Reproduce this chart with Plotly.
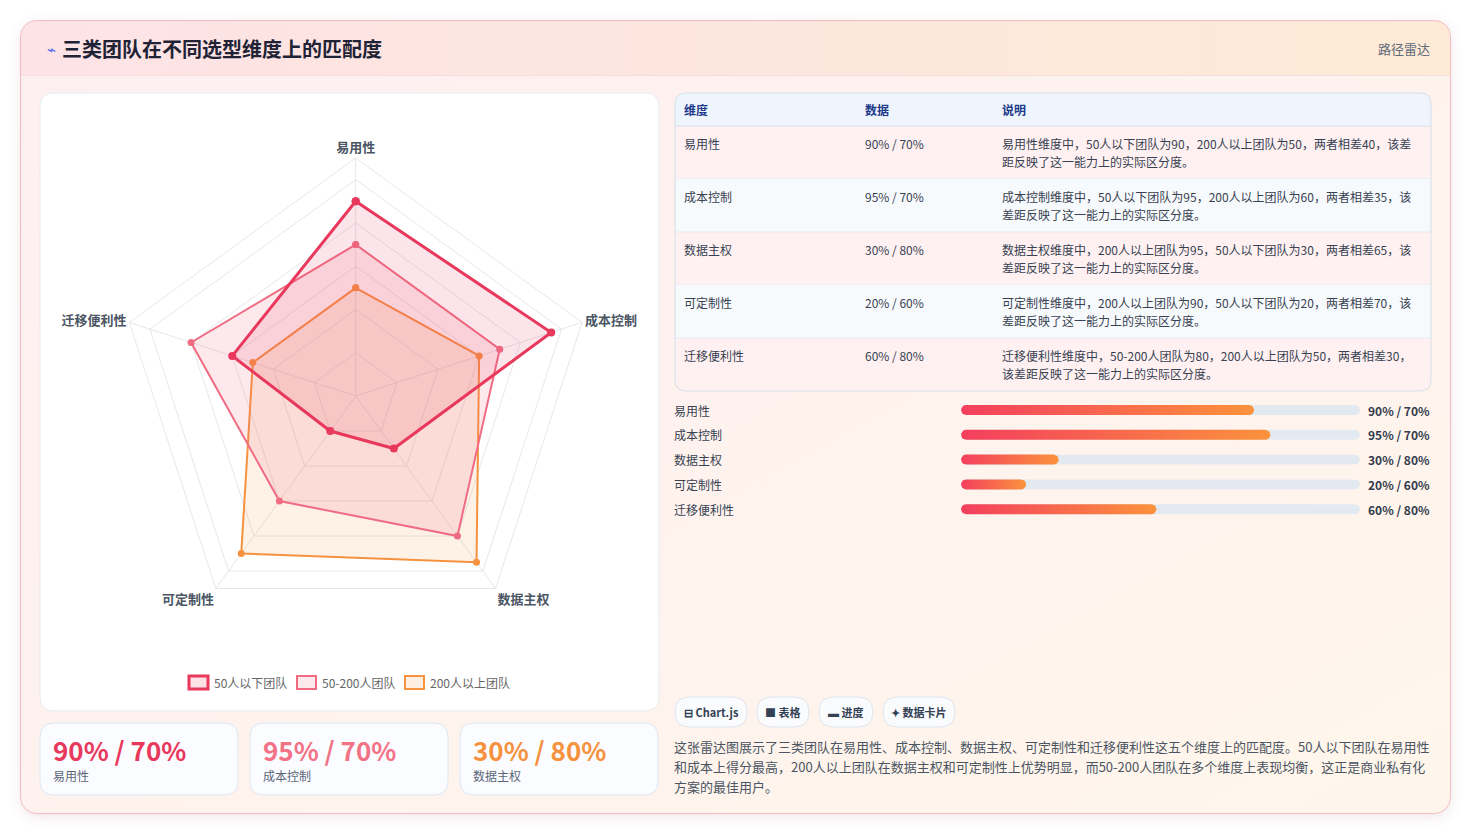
import base64
import math
import plotly.graph_objects as go

W, H = 1471, 836
OFF = 8  # body margin of the html page
FONT = "Noto Sans CJK SC, Noto Sans, sans-serif"

# ---- data ----
dimensions = ["易用性", "成本控制", "数据主权", "可定制性", "迁移便利性"]
team_names = ["50人以下团队", "50-200人团队", "200人以上团队"]
small_team = [90, 95, 30, 20, 60]
mid_team = [70, 70, 80, 60, 80]
large_team = [50, 60, 95, 90, 50]
table_notes = [
    "易用性维度中，50人以下团队为90，200人以上团队为50，两者相差40，该差距反映了这一能力上的实际区分度。",
    "成本控制维度中，50人以下团队为95，200人以上团队为60，两者相差35，该差距反映了这一能力上的实际区分度。",
    "数据主权维度中，200人以上团队为95，50人以下团队为30，两者相差65，该差距反映了这一能力上的实际区分度。",
    "可定制性维度中，200人以上团队为90，50人以下团队为20，两者相差70，该差距反映了这一能力上的实际区分度。",
    "迁移便利性维度中，50-200人团队为80，200人以上团队为50，两者相差30，该差距反映了这一能力上的实际区分度。",
]
table_header = ["维度", "数据", "说明"]
chips = ["⊟ Chart.js", "■ 表格", "▬ 进度", "✦ 数据卡片"]
summary_lines = [
    "这张雷达图展示了三类团队在易用性、成本控制、数据主权、可定制性和迁移便利性这五个维度上的匹配度。50人以下团队在易用性",
    "和成本上得分最高，200人以上团队在数据主权和可定制性上优势明显，而50-200人团队在多个维度上表现均衡，这正是商业私有化",
    "方案的最佳用户。",
]
title = "三类团队在不同选型维度上的匹配度"
badge = "路径雷达"

pairs = [f"{a}% / {b}%" for a, b in zip(small_team, mid_team)]

RED = "#e8385c"
PINK = "#f06c83"
ORANGE = "#f6913e"


def px(x):
    return (x - OFF) / W


def py(y):
    return 1 - (y - OFF) / H


def rounded(x0, y0, x1, y1, r, top=True, bottom=True):
    p = lambda x, y: f"{px(x):.6f},{py(y):.6f}"
    rt = r if top else 0
    rb = r if bottom else 0
    return (f"M {p(x0 + rt, y0)} L {p(x1 - rt, y0)} Q {p(x1, y0)} {p(x1, y0 + rt)} "
            f"L {p(x1, y1 - rb)} Q {p(x1, y1)} {p(x1 - rb, y1)} "
            f"L {p(x0 + rb, y1)} Q {p(x0, y1)} {p(x0, y1 - rb)} "
            f"L {p(x0, y0 + rt)} Q {p(x0, y0)} {p(x0 + rt, y0)} Z")


def wrap(s, limit=412, size=12):
    lines, cur, w = [], "", 0
    for ch in s:
        if ord(ch) > 0x2E80:
            cw = size
        elif ch.isdigit():
            cw = size * 0.54
        else:
            cw = size * 0.35
        if w + cw > limit:
            lines.append(cur)
            cur, w = "", 0
        cur += ch
        w += cw
    lines.append(cur)
    return lines


def text(x, y, s, size=12, color="#374151", anchor="left", weight="normal", yref="paper", yshift=0):
    return dict(x=px(x), y=py(y) if yref == "paper" else y, xref="paper", yref=yref,
                text=s, showarrow=False, xanchor=anchor, yanchor="middle", yshift=yshift,
                xshift=-2 if anchor == "left" else (2 if anchor == "right" else 0),
                font=dict(family=FONT, size=size, color=color, weight=weight))


fig = go.Figure()

# ---- progress bars ----
bar_max = 122.5
ux = bar_max / (1360 - 961)
uy = 5 / 124.0


def pill(x0, x1, yc, r=5, n=14):
    xs, ys = [], []
    cx0, cx1 = x0 + r * ux, x1 - r * ux
    for k in range(n + 1):
        t = -math.pi / 2 + math.pi * k / n
        xs.append(cx1 + r * ux * math.cos(t))
        ys.append(yc + r * uy * math.sin(t))
    for k in range(n + 1):
        t = math.pi / 2 + math.pi * k / n
        xs.append(cx0 + r * ux * math.cos(t))
        ys.append(yc + r * uy * math.sin(t))
    xs.append(xs[0])
    ys.append(ys[0])
    return xs, ys


for i, v in enumerate(small_team):
    tx, ty = pill(0, bar_max, i)
    fig.add_trace(go.Scatter(x=tx, y=ty, mode="lines", fill="toself", fillcolor="#e3e9f1",
                             line=dict(width=0), hoverinfo="skip", showlegend=False))
    fx, fy = pill(0, v, i)
    fig.add_trace(go.Scatter(x=fx, y=fy, mode="lines", fill="toself",
                             fillgradient=dict(type="horizontal",
                                               colorscale=[[0, "#f43f5e"], [1, "#fb923c"]]),
                             line=dict(width=0), hoverinfo="skip", showlegend=False))

# ---- radar ----
series = [
    (team_names[2], large_team, ORANGE, "rgba(251,146,60,0.13)", 2, 7),
    (team_names[1], mid_team, PINK, "rgba(240,100,125,0.15)", 2, 7),
    (team_names[0], small_team, RED, "rgba(232,56,92,0.13)", 3, 8),
]
for name, vals, color, fillc, lw, ms in series:
    fig.add_trace(go.Scatterpolar(
        r=vals + vals[:1], theta=dimensions + dimensions[:1], name=name,
        mode="lines+markers", fill="toself", fillcolor=fillc,
        line=dict(color=color, width=lw), marker=dict(color=color, size=ms),
        showlegend=False, subplot="polar"))

# ---- background ----
svg = f"""<svg xmlns="http://www.w3.org/2000/svg" width="{W}" height="{H}" viewBox="0 0 {W} {H}">
<defs>
<linearGradient id="b" x1="0" y1="0" x2="1" y2="1"><stop offset="0" stop-color="#fdeff1"/><stop offset="1" stop-color="#fff6eb"/></linearGradient>
<linearGradient id="h" x1="0" y1="0" x2="1" y2="0"><stop offset="0" stop-color="#fde3e6"/><stop offset="1" stop-color="#feead6"/></linearGradient>
<clipPath id="c"><rect x="20.5" y="20.5" width="1430" height="793" rx="16"/></clipPath>
<filter id="s" x="-5%" y="-5%" width="110%" height="110%"><feDropShadow dx="0" dy="3" stdDeviation="6" flood-color="#b07078" flood-opacity="0.18"/></filter>
</defs>
<g transform="translate(-{OFF},-{OFF})">
<rect x="20.5" y="20.5" width="1430" height="793" rx="16" fill="url(#b)" filter="url(#s)"/>
<rect x="20" y="20" width="1431" height="55" fill="url(#h)" clip-path="url(#c)"/>
<line x1="20.5" y1="75.5" x2="1450.5" y2="75.5" stroke="#f5dede" stroke-width="1"/>
<rect x="20.5" y="20.5" width="1430" height="793" rx="16" fill="none" stroke="#f3bcc5" stroke-width="1"/>
</g>
</svg>"""
bg_src = "data:image/svg+xml;base64," + base64.b64encode(svg.encode("utf-8")).decode()

P = dict(xref="paper", yref="paper", layer="below")
shapes = [
    dict(type="path", path=rounded(40, 93, 659, 711, 14), fillcolor="white",
         line=dict(color="#e6ebf2", width=1), **P),
]
card_x = [40, 250, 460]
for x0 in card_x:
    shapes.append(dict(type="path", path=rounded(x0, 723, x0 + 198, 795, 14), fillcolor="#fafcff",
                       line=dict(color="#dde6f1", width=1), **P))
chip_x = [(675, 747), (757, 809), (819, 873), (883, 955)]
for x0, x1 in chip_x:
    shapes.append(dict(type="path", path=rounded(x0, 697, x1, 727, 15), fillcolor="#f9fbfd",
                       line=dict(color="#dfe5ee", width=1), **P))
legend_x = [189, 297, 405]
legend_style = [(RED, "rgba(232,56,92,0.15)", 3), (PINK, "rgba(240,100,125,0.15)", 2),
                (ORANGE, "rgba(251,146,60,0.15)", 2)]
for x0, (lc, fc, lw) in zip(legend_x, legend_style):
    shapes.append(dict(type="rect", x0=px(x0), x1=px(x0 + 19), y0=py(689), y1=py(676),
                       fillcolor=fc, line=dict(color=lc, width=lw), xref="paper", yref="paper"))

# ---- table (rows on yaxis2) ----
TX0, TX1, TY0, THEAD, TY1 = 675, 1431, 93, 126, 391
row_fills = ["#fff1f1", "#f7fafd"]
shapes.append(dict(type="path", path=rounded(TX0, TY0, TX1, TY1, 11), fillcolor=row_fills[0],
                   line=dict(width=0), **P))
shapes.append(dict(type="path", path=rounded(TX0, TY0, TX1, THEAD, 11, bottom=False),
                   fillcolor="#eef5fd", line=dict(width=0), **P))
for i in range(len(dimensions)):
    if i % 2 == 1:
        shapes.append(dict(type="rect", xref="paper", yref="y2", layer="below",
                           x0=px(TX0 + 0.5), x1=px(TX1 - 0.5), y0=i - 0.5, y1=i + 0.5,
                           fillcolor=row_fills[1], line=dict(width=0)))
    if i < len(dimensions) - 1:
        shapes.append(dict(type="line", xref="paper", yref="y2", layer="below",
                           x0=px(TX0), x1=px(TX1), y0=i + 0.5, y1=i + 0.5,
                           line=dict(color="#e5eaf1", width=1)))
shapes.append(dict(type="line", x0=px(TX0), x1=px(TX1), y0=py(THEAD), y1=py(THEAD),
                   line=dict(color="#d5dfec", width=1), **P))
shapes.append(dict(type="path", path=rounded(TX0, TY0, TX1, TY1, 11), fillcolor="rgba(0,0,0,0)",
                   line=dict(color="#d6dee9", width=1), **P))

col_x = [684, 865, 1002]
ann = [
    text(47, 49, "⌁", size=15, color="#4f6bed"),
    text(62, 49, f"<b>{title}</b>", size=20, color="#1f2335"),
    text(1430, 48, badge, size=13, color="#5f6b7a", anchor="right"),
]
for cx, h in zip(col_x, table_header):
    ann.append(text(cx, 109.5, f"<b>{h}</b>", size=12, color="#1e3a8a"))
for i, (dim, pair, note) in enumerate(zip(dimensions, pairs, table_notes)):
    ann.append(text(col_x[0], i, dim, size=12, color="#374151", yref="y2", yshift=9.5))
    ann.append(text(col_x[1], i, pair, size=12, color="#374151", yref="y2", yshift=9.5))
    for k, line in enumerate(wrap(note)):
        ann.append(text(col_x[2], i, line, size=12, color="#374151", yref="y2", yshift=9.5 - 18 * k))

for x0, name in zip(legend_x, team_names):
    ann.append(text(x0 + 25, 682, name, size=12, color="#666666"))
card_colors = [RED, "#f27286", ORANGE]
for i, x0 in enumerate(card_x):
    ann.append(text(x0 + 13, 749, f"<b>{pairs[i]}</b>", size=26, color=card_colors[i]))
    ann.append(text(x0 + 13, 775, dimensions[i], size=12, color="#5b6678"))
for i, dim in enumerate(dimensions):
    ann.append(text(674, i, dim, size=12, color="#374151", yref="y"))
    ann.append(text(1430, i, f"<b>{pairs[i]}</b>", size=12, color="#333c4d", anchor="right", yref="y"))
for (x0, x1), c in zip(chip_x, chips):
    ann.append(text((x0 + x1) / 2, 712, f"<b>{c}</b>", size=11, color="#334155", anchor="center"))
for k, line in enumerate(summary_lines):
    ann.append(text(674, 746 + 20 * k, line, size=13, color="#4b5563"))

fig.update_layout(
    width=W, height=H, margin=dict(l=0, r=0, t=0, b=0),
    paper_bgcolor="white", plot_bgcolor="rgba(0,0,0,0)",
    font=dict(family=FONT),
    images=[dict(source=bg_src, xref="paper", yref="paper", x=0, y=1, sizex=1, sizey=1,
                 xanchor="left", yanchor="top", sizing="stretch", layer="below")],
    shapes=shapes,
    annotations=ann,
    xaxis=dict(domain=[px(961), px(1360)], range=[0, bar_max], visible=False, fixedrange=True),
    yaxis=dict(domain=[py(521.6), py(397.6)], range=[4.5, -0.5], visible=False, fixedrange=True),
    xaxis2=dict(domain=[px(TX0), px(TX1)], range=[0, 1], visible=False, fixedrange=True, anchor="y2"),
    yaxis2=dict(domain=[py(TY1), py(THEAD)], range=[len(dimensions) - 0.5, -0.5], visible=False,
                fixedrange=True, anchor="x2"),
    polar=dict(
        domain=dict(x=[px(117.7), px(593.7)], y=[py(634), py(158)]),
        bgcolor="rgba(0,0,0,0)", gridshape="linear",
        radialaxis=dict(range=[0, 110], tickvals=[20, 40, 60, 80, 100], showticklabels=False,
                        ticks="", showline=False, gridcolor="#e5e7eb", gridwidth=1),
        angularaxis=dict(rotation=90, direction="clockwise", gridcolor="#e5e7eb",
                         linecolor="#e5e7eb", showline=True, ticks="",
                         tickfont=dict(family=FONT, size=13, color="#4b5563", weight=600)),
    ),
)

fig.write_html("out.html")
